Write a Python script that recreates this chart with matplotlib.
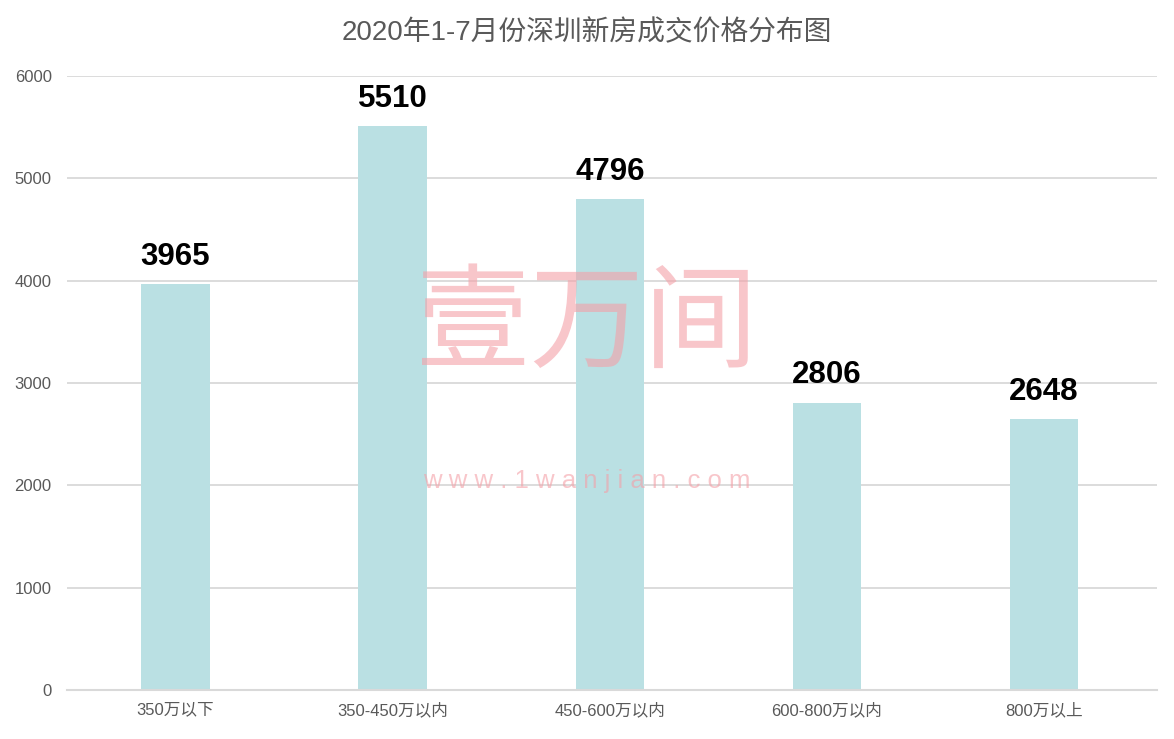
import matplotlib
matplotlib.use("Agg")
import matplotlib.pyplot as plt

plt.rcParams['font.family'] = ['Liberation Sans', 'Noto Sans CJK SC', 'DejaVu Sans']

categories = ["350万以下", "350-450万以内", "450-600万以内", "600-800万以内", "800万以上"]
values = [3965, 5510, 4796, 2806, 2648]
yticks = [0, 1000, 2000, 3000, 4000, 5000, 6000]
title = "2020年1-7月份深圳新房成交价格分布图"

fig = plt.figure(figsize=(11.74, 7.39), dpi=100)
ax = fig.add_axes([67/1174, 1 - 690/739, (1157-67)/1174, (690-76)/739])

x = range(len(categories))
ax.bar(x, values, width=0.315, color="#BAE0E3", zorder=2)
for xi, v in zip(x, values):
    ax.annotate(f"{v}", (xi, v), xytext=(0, 9), textcoords="offset points",
                ha="center", va="bottom", fontsize=22.5, fontweight="bold", color="black",
                zorder=5)

ax.set_xlim(-0.5, 4.52)
ax.set_ylim(0, 6000)
ax.set_yticks(yticks)
ax.set_yticklabels([str(t) for t in yticks])
ax.set_xticks(list(x))
ax.set_xticklabels(categories)
ax.yaxis.grid(True, color="#D9D9D9", linewidth=1.3, zorder=0)
ax.set_axisbelow(True)
for s in ["top", "right", "left"]:
    ax.spines[s].set_visible(False)
ax.spines["bottom"].set_color("#D9D9D9")
ax.spines["bottom"].set_linewidth(1.5)
ax.tick_params(axis="both", length=0, labelsize=12, labelcolor="#595959")
ax.tick_params(axis="y", pad=11)
ax.tick_params(axis="x", pad=9)

fig.text(0.5, 1 - 33/739, title, ha="center", va="center", fontsize=20, color="#595959")

# watermark
fig.text(587/1174, 1 - 330/739, "壹万间", ha="center", va="center", fontsize=82,
         color="#F4A0A8", alpha=0.6, zorder=10)
fig.text(587/1174, 1 - 481/739, "w w w . 1 w a n j i a n . c o m", ha="center", va="center",
         fontsize=18.5, color="#F4A0A8", alpha=0.6, zorder=10)

fig.savefig("out.png", dpi=100)
